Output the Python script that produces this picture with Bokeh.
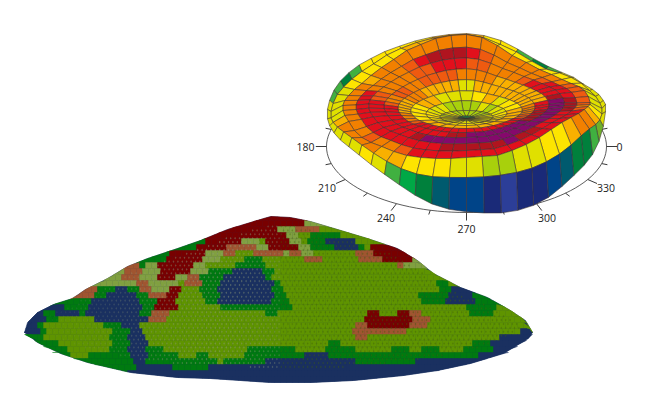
import numpy as np
from bokeh.plotting import figure
from bokeh.models import Range1d
from bokeh.embed import file_html
from bokeh.resources import INLINE
from bokeh.core.properties import value

# ---------- upper surface: polar grid, 50 sectors, 11 rings ----------
ring_radius = [0.0, 0.06, 0.19, 0.29, 0.40, 0.49, 0.59, 0.70, 0.79, 0.885, 0.97, 0.995]
ring_height = [27.5, 28, 29.5, 33.5, 37, 40.5, 43.5, 46, 48, 51, 40.5]
ring_depth = [0, 2.5, 6.5, 12.5, 19, 26.5, 34.5, 43, 52, 62, 71.5]
ridge_weight = [0, 0, 0, .05, .1, .18, .3, .45, .7, 1, 0]
rim_weight = [0, 0, 0, 0, 0, 0, 0, 0, 0, 0, 1]
ridge_height = [44, 50, 56, 60, 63, 67, 72, 77, 84, 91, 101, 109, 112, 111, 108, 102, 96, 87, 79, 71,
                63, 57, 51, 46, 41, 36, 31, 25, 16, 9, 4, 0, -5, -9, -11, -12, -12, -11, -10, -9,
                -4, 2, 9, 17, 24, 29, 33, 37, 40, 42]
rim_drop = [7, 10.5, 12.5, 15, 15.5, 17, 19, 21, 18, 12.5, 7.7, 2.5, 0, .5, 1.5, 3, 5, 7, 10, 11,
            11.5, 11.5, 10.5, 11, 10, 7.5, 3, -1, -4.5, -6.5, -6.5, -5, -2.5, 0, 1.5, 1.5, .5, 0, 0, 0,
            0, -.5, -2, -4, -6.5, -8.5, -7.5, -3.5, .5, 3.5]
wall_base_height = [38, 33.6, 31.6, 29, 26.6, 27, 26, 26.6, 30, 36, 42, 45.5, 47, 46.5, 45.5, 44.2,
                    42.5, 41.5, 40, 39.5, 38.5, 37.5, 36, 34, 33, 32, 33, 34, 34.5, 35, 33.5, 30, 25.5, 19.5,
                    12.5, 6.5, 2.7, .7, -1, -2.5, -2.5, -1, 2.5, 8, 13, 16.5, 20, 25.5, 32.5, 39]
polar_palette = {"a": "#85096c", "b": "#b0141f", "c": "#e2101c", "d": "#ef5a10", "e": "#f28000", "f": "#f9b000",
                 "g": "#fde400", "h": "#e0e000", "i": "#a8d00c", "j": "#40b040", "k": "#00a846", "l": "#00803c",
                 "m": "#005a6e", "n": "#004488", "o": "#1a2a78", "p": "#2c3e98", "q": "#6fb02a"}
ring_classes = [
    "kkkkkkk" "kkkkkkkkkkkkkk" "kkkkiiiii" "iiiiiiiiii" "iiiiiiiiii",
    "hhiiiii" "iiiiiiiiiihhhh" "ihhhhhhhh" "hhhhhhhhhh" "hhhhhhhhhh",
    "hhhhhii" "hiiiiiiiiihhhg" "hgggggggg" "gggggggggg" "gggggggggg",
    "fgggghh" "fggghhhhhgffff" "ggggggggf" "ffffffffff" "ffffffffff",
    "effffff" "ffffhhfffffeee" "fffffeeed" "cccccccccc" "cccccddeee",
    "cffffff" "ffeeeeddddeedd" "eedcccccc" "cccccbbaaa" "aaaabbbbcc",
    "abccccd" "eeeddcccddeeee" "ddccccccc" "ccbaaaaaaa" "aaaaaaaaaa",
    "bccccde" "eeedcbbbcdeeee" "ccccccccc" "cccccbbbbb" "abbccccbbb",
    "ddddeee" "eeeeeeeeeeeefe" "eeeeeeeed" "eedccccccc" "cccccccded",
    "hhhgggg" "ggggggfffggggg" "hhhhhfeee" "effggghhii" "hhggfeefgh",
    "hhhhhhj" "ljggfffgggggjl" "jjhhhhhhh" "ghjklmnnop" "oonmlljqhh",
]
angle_labels = ["180", "210", "240", "270", "300", "330", "0"]
label_angles = [180, 210, 240, 270, 300, 330, 360]
tick_angles = [165, 180, 195, 210, 225, 240, 255, 270, 285, 300, 315, 330, 345, 360, 375]

# ---------- lower surface: class runs per row (class + count of columns) ----------
dome_palette = {"N": "#1a3060", "G": "#007a10", "O": "#5f9400", "L": "#80a040", "B": "#a05530", "R": "#780000"}
dome_rows = [
    ". 38 R 8",
    ". 36 R 11 L 3",
    ". 34 R 9 L 3 B 4 O 3",
    ". 32 R 12 L 2 O 2 G 5 O 2",
    ". 29 G 2 R 6 L 3 O 1 R 4 L 2 O 1 G 3 N 5 O 1",
    ". 26 G 3 R 5 B 5 L 2 R 5 L 2 G 4 N 4 G 1 O 1 R 4",
    ". 23 G 2 R 6 L 3 B 2 O 3 B 5 L 1 B 2 L 2 O 7 B 3 R 5",
    ". 21 G 3 R 6 L 3 O 4 G 3 O 7 B 3 O 6 B 4 R 5 L 1",
    ". 18 B 2 G 1 L 2 R 6 L 2 O 5 G 5 O 22 B 1 L 3",
    ". 15 L 2 B 3 L 3 R 5 L 3 G 4 N 5 G 2 O 26",
    ". 14 L 3 B 3 L 3 R 3 L 2 B 2 G 4 N 7 G 1 O 28",
    ". 12 L 7 B 2 L 5 O 1 B 3 G 3 N 9 G 1 O 26 G 2 O 1",
    ". 10 B 3 G 3 N 2 G 2 B 2 L 3 R 2 O 3 G 3 N 9 G 2 O 26 G 2 N 2",
    ". 8 B 4 G 2 N 5 G 2 B 3 R 2 O 4 G 3 N 9 G 2 O 22 G 5 N 4 G 1",
    ". 6 G 6 N 8 G 3 R 3 O 5 G 2 N 9 G 3 O 22 G 4 N 5 G 2",
    ". 3 N 4 G 4 N 9 G 2 R 4 O 7 G 12 O 29 G 5 O 1",
    ". 2 N 2 G 2 N 4 G 1 N 9 G 2 B 3 O 16 G 2 O 15 R 2 O 3 R 2 B 2 O 8 G 4 O 2",
    ". 1 N 3 G 2 O 6 N 9 B 3 O 33 R 8 B 3 O 14",
    ". 1 N 2 G 1 O 10 G 3 N 3 O 36 B 2 R 7 B 3 O 16",
    "N 3 G 1 O 11 G 3 N 2 O 35 B 9 O 19 N 3",
    ". 1 G 3 O 11 G 3 N 3 O 35 B 2 O 22 N 4",
    ". 2 G 4 O 9 G 3 N 3 O 30 G 2 O 22 G 3 N 5",
    ". 4 G 4 O 7 G 3 N 3 G 3 O 14 G 8 O 5 G 5 O 6 G 3 O 2 G 3 O 4 G 5 N 2",
    ". 6 G 2 O 3 G 7 N 3 G 5 O 3 G 2 O 6 G 10 N 4 G 25 N 3",
    ". 10 G 9 N 2 G 12 O 1 G 7 N 15 G 10 N 12",
    ". 14 G 5 N 6 G 6 N 46",
    ". 17 G 1 N 50",
    ". 31 N 30",
]
dome_top_x = [24, 27, 37, 53, 72, 85, 107, 127, 147, 177, 200, 227, 250, 270, 290, 310, 337, 367, 397, 417, 433, 460, 487, 510, 525, 532]
dome_top_y = [332, 322, 312, 304, 298, 289, 278, 266, 258, 248, 240, 229, 222, 216, 217, 221, 229, 238, 248, 260, 273, 287, 297, 310, 320, 332]
dome_bot_x = [24, 37, 60, 87, 130, 177, 210, 270, 310, 353, 403, 437, 470, 503, 528, 532]
dome_bot_y = [332, 342, 353, 362, 372, 377, 378, 382, 382, 380, 375, 370, 363, 353, 338, 332]

CX, CY, A, B = 466.0, 146.0, 140.0, 66.0
N = 50
p = figure(width=635, height=395, x_range=Range1d(0, 635), y_range=Range1d(395, 0),
           output_backend="svg", toolbar_location=None, min_border=0)
p.axis.visible = False
p.grid.visible = False
p.outline_line_color = None
p.background_fill_color = "white"
p.border_fill_color = "white"

# ----- lower dome -----
def top(x):
    return np.interp(x, dome_top_x, dome_top_y)
def bot(x):
    return np.interp(x, dome_bot_x, dome_bot_y)

base_x = list(dome_top_x) + list(dome_bot_x[::-1])
base_y = list(dome_top_y) + list(dome_bot_y[::-1])
p.patch(base_x, base_y, fill_color=dome_palette["N"], line_color=dome_palette["N"], line_width=0.5)

COLS, CW, CH, X0, Y0 = 85, 6.0, 6.0, 22.0, 214.0
xs, ys, cols = [], [], []
for r, row in enumerate(dome_rows):
    parts = row.split()
    cells = []
    for k in range(0, len(parts), 2):
        cells += [parts[k]] * int(parts[k + 1])
    solid = [c for c in cells if c != "."]
    cells = [c if c != "." else solid[0] for c in cells]
    cells += [solid[-1]] * (COLS + 1 - len(cells))
    shift = 3.0 * (r % 2)
    y0, y1 = Y0 + r * CH, Y0 + (r + 1) * CH
    for c, k in enumerate(cells):
        x0 = max(X0 + c * CW + shift - 3, 24)
        x1 = min(x0 + CW if c else X0 + CW + shift + 3, 532)
        if x1 <= x0:
            continue
        t0, t1, b0, b1 = top(x0), top(x1), bot(x0), bot(x1)
        ya, yb = max(y0, t0), max(y0, t1)
        yc, yd = min(y1, b1), min(y1, b0)
        if ya >= yd and yb >= yc:
            continue
        yd = max(yd, ya)
        yc = max(yc, yb)
        xs.append([x0, x1, x1, x0])
        ys.append([ya, yb, yc, yd])
        cols.append(dome_palette[k])
p.patches(xs, ys, fill_color=cols, line_color=cols, line_width=0.4)

# mesh holes of the dome
hx, hy, hc, ha = [], [], [], []
for i, y in enumerate(np.arange(226.0, 380.0, 3.9)):
    for x in np.arange(30.0 + (i % 2) * 2.2, 530.0, 4.4):
        t, b = top(x), bot(x)
        if y < t + 8 or y > b - 14:
            continue
        centre = max(1 - abs(x - 215) / 170.0, 0)
        right = max(min((x - 250) / 60.0, 1), 0)
        hc.append("#8d9a78" if x < 280 else "#40600a")
        ha.append(0.06 + 0.5 * centre if x < 280 else 0.25 + 0.2 * right)
        hx.append(x); hy.append(y)
p.scatter(hx, hy, marker="diamond", size=2.6, fill_color=hc, fill_alpha=ha, line_color=None)

# ----- polar axis -----
t = np.radians(np.arange(150, 391, 3.0))
p.line(CX + A * np.cos(t), CY - B * np.sin(t), line_color="#333333", line_width=0.8)
for deg in tick_angles:
    th = np.radians(deg)
    major = deg % 30 == 0
    f = 1.0 if major else 0.55
    x0, y0 = CX + A * np.cos(th), CY - B * np.sin(th)
    p.line([x0, x0 + 10.7 * f * np.cos(th)], [y0, y0 - 8 * f * np.sin(th)], line_color="#222222", line_width=0.9)
lx = [CX + A * np.cos(np.radians(d)) + (21 if len(s) == 3 else 13) * np.cos(np.radians(d)) for d, s in zip(label_angles, angle_labels)]
ly = [CY - B * np.sin(np.radians(d)) - 16 * np.sin(np.radians(d)) for d in label_angles]
p.text(lx, ly, text=angle_labels, text_font=value("Open Sans"), text_font_size="10.5px", text_color="#222222",
       text_align="center", text_baseline="middle")

# ----- polar surface -----
theta = np.radians(3.6 + 7.2 * np.arange(N))
ridge_y = CY - np.array(ridge_height, dtype=float)
ridge_drop = ridge_y - (CY - ring_height[9] - ring_depth[9] * np.sin(theta))
drop = np.array(rim_drop, dtype=float)
NR = len(ring_classes)
PX = np.zeros((NR + 1, N))
PY = np.zeros((NR + 1, N))
for i in range(NR):
    PX[i] = CX + ring_radius[i] * A * np.cos(theta)
    PY[i] = CY - ring_height[i] - ring_depth[i] * np.sin(theta) + ridge_weight[i] * ridge_drop + rim_weight[i] * drop
PX[NR] = CX + ring_radius[NR] * A * np.cos(theta)
PY[NR] = CY - B * np.sin(theta) - np.array(wall_base_height, dtype=float)

cells = []
for i in range(NR):
    coarse = i <= 3
    for j in (range(1, N, 2) if coarse else range(N)):
        step = 2 if coarse else 1
        tm = theta[j] + np.radians(3.6 * step)
        rm = 0.5 * (ring_radius[i] + ring_radius[i + 1])
        cells.append((rm * np.sin(tm), i, j, (j + step) % N))
cells.sort(key=lambda c: -c[0])
sx = [[PX[i, j], PX[i, k], PX[i + 1, k], PX[i + 1, j]] for _, i, j, k in cells]
sy = [[PY[i, j], PY[i, k], PY[i + 1, k], PY[i + 1, j]] for _, i, j, k in cells]
sc = [polar_palette[ring_classes[i][j]] for _, i, j, _k in cells]
p.patches(sx, sy, fill_color=sc, line_color="#3a3030", line_width=0.55)

assert all(len(s) == N for s in ring_classes)
open("out.html", "w").write(file_html(p, INLINE))
